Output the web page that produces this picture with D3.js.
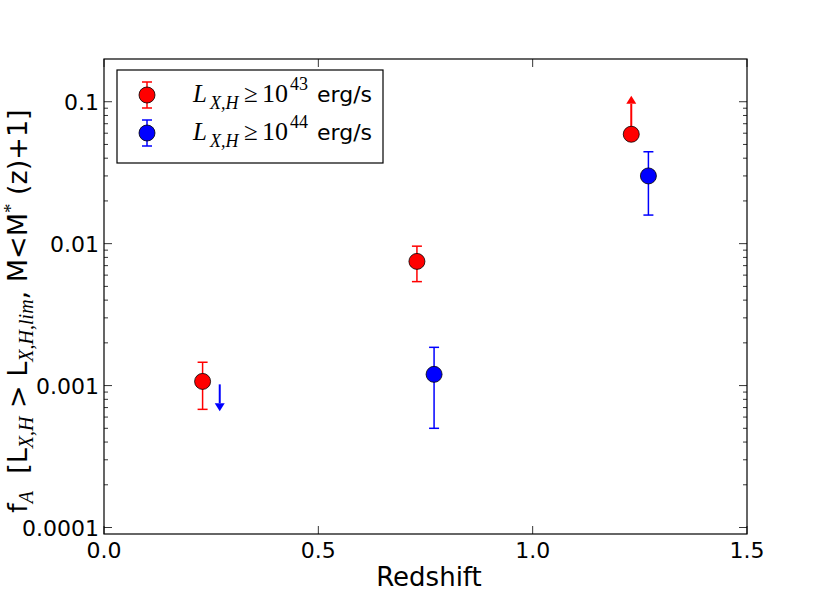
<!DOCTYPE html>
<html>
<head>
<meta charset="utf-8">
<script src="https://cdn.jsdelivr.net/npm/d3@7"></script>
<style>
  body { margin: 0; background: #fff; }
  svg { display: block; }
</style>
</head>
<body>
<div id="chart"></div>
<script>
// redshift bins and fractions
var z43 = [0.23, 0.73, 1.23];
var f43 = [0.00107, 0.0075, 0.059];
var f43Lo = [0.00068, 0.0054, null];
var f43Hi = [0.00146, 0.0096, null];
var f43Limit = [null, null, "lower"];
var f43Arrow = [null, null, 0.11];

var z44 = [0.27, 0.77, 1.27];
var f44 = [0.00102, 0.0012, 0.030];
var f44Lo = [null, 0.0005, 0.0159];
var f44Hi = [null, 0.00186, 0.0444];
var f44Limit = ["upper", null, null];
var f44Arrow = [0.00066, null, null];

var xTicks = [0.0, 0.5, 1.0, 1.5];
var xTickLabels = ["0.0", "0.5", "1.0", "1.5"];
var yTicks = [0.0001, 0.001, 0.01, 0.1];
var yTickLabels = ["0.0001", "0.001", "0.01", "0.1"];
var legendExp = ["43", "44"];

function main() {
    const W = 830, H = 593;
    const left = 104, right = 747, top = 59, bottom = 534;
    const sans = "DejaVu Sans, sans-serif";
    const serif = "Liberation Serif, DejaVu Serif, serif";

    var svg = d3.select("#chart").append("svg")
        .attr("width", W)
        .attr("height", H)

    var x = d3.scaleLinear().domain([0, 1.5]).range([left, right]);
    var y = d3.scaleLog().domain([0.00009, 0.2]).range([bottom, top]);

    // minor log ticks
    var minor = [];
    for (var e = -5; e <= 0; e++) {
        for (var m = 2; m <= 9; m++) {
            var v = m * Math.pow(10, e);
            if (v > 0.00009 && v < 0.2) minor.push(v);
        }
    }

    var g = svg.append("g");

    // x ticks, bottom and top, pointing inward
    xTicks.forEach(function (t, i) {
        g.append("line").attr("x1", x(t)).attr("x2", x(t)).attr("y1", bottom).attr("y2", bottom - 8)
            .attr("stroke", "#000").attr("stroke-width", 0.8)
        g.append("line").attr("x1", x(t)).attr("x2", x(t)).attr("y1", top).attr("y2", top + 8)
            .attr("stroke", "#000").attr("stroke-width", 0.8)
        g.append("text").text(xTickLabels[i])
            .attr("x", x(t)).attr("y", 558)
            .attr("text-anchor", "middle")
            .style("font-family", sans).style("font-size", "22px")
    });

    yTicks.forEach(function (t, i) {
        g.append("line").attr("x1", left).attr("x2", left + 8).attr("y1", y(t)).attr("y2", y(t))
            .attr("stroke", "#000").attr("stroke-width", 0.8)
        g.append("line").attr("x1", right).attr("x2", right - 8).attr("y1", y(t)).attr("y2", y(t))
            .attr("stroke", "#000").attr("stroke-width", 0.8)
        g.append("text").text(yTickLabels[i])
            .attr("x", 99).attr("y", y(t) + 8)
            .attr("text-anchor", "end")
            .style("font-family", sans).style("font-size", "22px")
    });

    minor.forEach(function (t) {
        g.append("line").attr("x1", left).attr("x2", left + 4).attr("y1", y(t)).attr("y2", y(t))
            .attr("stroke", "#000").attr("stroke-width", 0.8)
        g.append("line").attr("x1", right).attr("x2", right - 4).attr("y1", y(t)).attr("y2", y(t))
            .attr("stroke", "#000").attr("stroke-width", 0.8)
    });

    // frame
    svg.append("rect")
        .attr("x", left).attr("y", top)
        .attr("width", right - left).attr("height", bottom - top)
        .attr("fill", "none").attr("stroke", "#000").attr("stroke-width", 1.2)

    function drawSeries(zs, fs, lo, hi, lim, arrowTo, color) {
        zs.forEach(function (z, i) {
            var cx = x(z);
            if (lo[i] != null) {
                svg.append("line").attr("x1", cx).attr("x2", cx)
                    .attr("y1", y(lo[i])).attr("y2", y(hi[i]))
                    .attr("stroke", color).attr("stroke-width", 1.5)
                ;[lo[i], hi[i]].forEach(function (v) {
                    svg.append("line").attr("x1", cx - 5).attr("x2", cx + 5)
                        .attr("y1", y(v)).attr("y2", y(v))
                        .attr("stroke", color).attr("stroke-width", 1.5)
                });
            }
            if (lim[i] != null) {
                var y0 = y(fs[i]), y1 = y(arrowTo[i]);
                var dir = y1 < y0 ? 1 : -1;   // 1 -> head points up
                var hb = y1 + dir * 8;
                svg.append("line").attr("x1", cx).attr("x2", cx)
                    .attr("y1", y0).attr("y2", hb)
                    .attr("stroke", color).attr("stroke-width", 2)
                svg.append("path")
                    .attr("d", "M" + (cx - 5) + "," + hb + "L" + cx + "," + y1 + "L" + (cx + 5) + "," + hb + "Z")
                    .attr("fill", color)
            }
            if (lim[i] !== "upper") {
                svg.append("circle").attr("cx", cx).attr("cy", y(fs[i])).attr("r", 8)
                    .attr("fill", color).attr("stroke", "#000").attr("stroke-width", 0.8)
            }
        });
    }

    drawSeries(z43, f43, f43Lo, f43Hi, f43Limit, f43Arrow, "#ff0000");
    drawSeries(z44, f44, f44Lo, f44Hi, f44Limit, f44Arrow, "#0000ff");

    // legend
    var lg = svg.append("g");
    lg.append("rect").attr("x", 117).attr("y", 70).attr("width", 266).attr("height", 93)
        .attr("fill", "#fff").attr("stroke", "#000").attr("stroke-width", 1.2)

    var rows = [95, 133];
    var colors = ["#ff0000", "#0000ff"];
    rows.forEach(function (ry, k) {
        var mx = 147, color = colors[k];
        lg.append("line").attr("x1", mx).attr("x2", mx).attr("y1", ry - 13).attr("y2", ry + 13)
            .attr("stroke", color).attr("stroke-width", 1.5)
        lg.append("line").attr("x1", mx - 5).attr("x2", mx + 5).attr("y1", ry - 13).attr("y2", ry - 13)
            .attr("stroke", color).attr("stroke-width", 1.5)
        lg.append("line").attr("x1", mx - 5).attr("x2", mx + 5).attr("y1", ry + 13).attr("y2", ry + 13)
            .attr("stroke", color).attr("stroke-width", 1.5)
        lg.append("circle").attr("cx", mx).attr("cy", ry).attr("r", 8)
            .attr("fill", color).attr("stroke", "#000").attr("stroke-width", 0.8)

        var b = ry + 7;
        lg.append("text").text("L").attr("x", 193).attr("y", b)
            .style("font-family", serif).style("font-style", "italic").style("font-size", "25px")
        lg.append("text").text("X,H").attr("x", 210).attr("y", b + 7)
            .style("font-family", serif).style("font-style", "italic").style("font-size", "18px")
        lg.append("text").text("\u2265").attr("x", 244).attr("y", b)
            .style("font-family", serif).style("font-size", "25px")
        lg.append("text").text("10").attr("x", 262).attr("y", b)
            .style("font-family", serif).style("font-size", "26px")
        lg.append("text").text(legendExp[k]).attr("x", 290).attr("y", b - 12)
            .style("font-family", serif).style("font-size", "18px")
        lg.append("text").text("erg/s").attr("x", 317).attr("y", b)
            .style("font-family", sans).style("font-size", "22px")
    });

    // axis labels
    svg.append("text").text("Redshift")
        .attr("x", 429).attr("y", 586)
        .attr("text-anchor", "middle")
        .style("font-family", sans).style("font-size", "26px")

    var yl = svg.append("text")
        .attr("transform", "translate(27,311) rotate(-90)")
        .attr("text-anchor", "middle")
        .style("font-family", sans).style("font-size", "27px")
    yl.append("tspan").text("f")
    yl.append("tspan").text("A").attr("dy", 6).style("font-family", serif).style("font-style", "italic").style("font-size", "20px")
    yl.append("tspan").text("\u00a0 [L").attr("dy", -6)
    yl.append("tspan").text("X,H").attr("dy", 6).style("font-family", serif).style("font-style", "italic").style("font-size", "20px")
    yl.append("tspan").text("\u00a0> L").attr("dy", -6)
    yl.append("tspan").text("X,H,lim").attr("dy", 6).style("font-family", serif).style("font-style", "italic").style("font-size", "20px")
    yl.append("tspan").text(", M<M").attr("dy", -6)
    yl.append("tspan").text("*").attr("dy", -10).style("font-family", serif).style("font-size", "19px")
    yl.append("tspan").text("\u00a0(z)+1]").attr("dy", 10)
}
main();
</script>
</body>
</html>
